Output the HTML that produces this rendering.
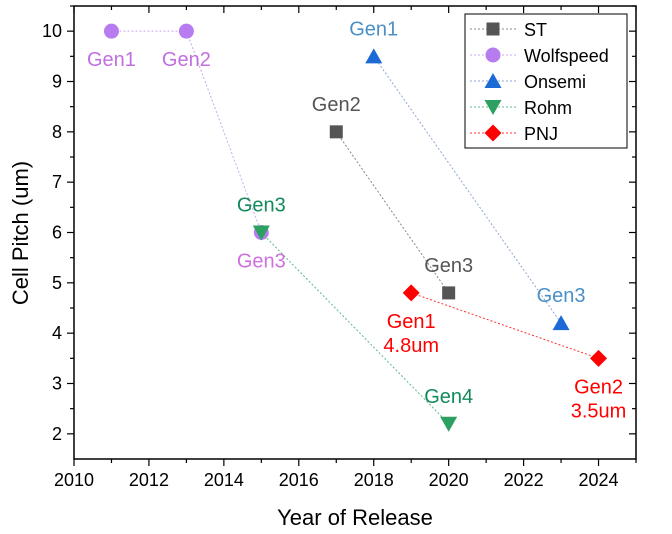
<!DOCTYPE html>
<html><head><meta charset="utf-8"><style>
body{margin:0;background:#fff;}
svg{display:block;font-family:"Liberation Sans",sans-serif;}
</style></head><body>
<svg id="c" width="672" height="534"></svg>
<script>
const years=[2010,2012,2014,2016,2018,2020,2022,2024];
const yTicks=[2,3,4,5,6,7,8,9,10];
const seriesNames=["ST","Wolfspeed","Onsemi","Rohm","PNJ"];
const stX=[2017,2020], stY=[8,4.8];
const wolfX=[2011,2013,2015], wolfY=[10,10,6];
const onX=[2018,2023], onY=[9.5,4.2];
const rohmX=[2015,2020], rohmY=[6,2.2];
const pnjX=[2019,2024], pnjY=[4.8,3.5];
const labelText=["Gen1","Gen2","Gen3","Gen1","Gen3","Gen2","Gen3","Gen3","Gen4","Gen1","4.8um","Gen2","3.5um"];
const labelX=[2011,2013,2015,2018,2023,2017,2020,2015,2020,2019,2019,2024,2024];
const labelY=[10,10,6,9.5,4.2,8,4.8,6,2.2,4.8,4.8,3.5,3.5];

const NS="http://www.w3.org/2000/svg";
const svg=document.getElementById('c');
const L=74,R=636,T=6,B=459;
const x=v=>L+(v-2010)*(R-L)/15;
const y=v=>B-(v-1.5)*(B-T)/9;
function mk(t,a,p){const e=document.createElementNS(NS,t);for(const k in a)e.setAttribute(k,a[k]);(p||svg).appendChild(e);return e;}

let fr=mk('rect',{x:L,y:T,width:R-L,height:B-T,fill:'none',stroke:'#000','stroke-width':1.5});



years.forEach(v=>{
  for(let i=0;i<2;i++){const vv=v+i;const xx=x(vv);const len=i?4:7;
    mk('line',{x1:xx,x2:xx,y1:B,y2:B+len,stroke:'#000','stroke-width':1.2});
    mk('line',{x1:xx,x2:xx,y1:T,y2:T+len,stroke:'#000','stroke-width':1.2});}
  const t=mk('text',{x:x(v),y:B+27,'text-anchor':'middle','font-size':18});
  t.textContent=v;
  
  
});
yTicks.forEach(v=>{
  [[v,7],[v+0.5,4]].forEach(([vv,len])=>{if(vv>10.5)return;const yy=y(vv);
    mk('line',{x1:L-len,x2:L,y1:yy,y2:yy,stroke:'#000','stroke-width':1.2});
    mk('line',{x1:R-len,x2:R,y1:yy,y2:yy,stroke:'#000','stroke-width':1.2});});
  const t=mk('text',{x:L-12,y:y(v)+6,'text-anchor':'end','font-size':18});
  t.textContent=v;
  
  
});
let xt=mk('text',{x:355,y:525,'text-anchor':'middle','font-size':22});xt.textContent='Year of Release';


let yt=mk('text',{x:0,y:0,'text-anchor':'middle','font-size':22,transform:'translate(28,233) rotate(-90)'});yt.textContent='Cell Pitch (um)';



function marker(shape,cx,cy,col){
  if(shape==='sq')return mk('rect',{x:cx-6.5,y:cy-6.5,width:13,height:13,fill:col});
  if(shape==='ci')return mk('circle',{cx,cy,r:7.5,fill:col});
  if(shape==='up')return mk('polygon',{points:`${cx},${cy-8} ${cx+8.5},${cy+7} ${cx-8.5},${cy+7}`,fill:col});
  if(shape==='dn')return mk('polygon',{points:`${cx},${cy+8} ${cx+8.5},${cy-7} ${cx-8.5},${cy-7}`,fill:col});
  return mk('polygon',{points:`${cx},${cy-8.5} ${cx+8.5},${cy} ${cx},${cy+8.5} ${cx-8.5},${cy}`,fill:col});
}
const series=[[stX,stY,'#555555','sq','#888'],[wolfX,wolfY,'#b77cf0','ci','#c8a8f0'],[onX,onY,'#1c6ad6','up','#8ea6d6'],[rohmX,rohmY,'#2ca060','dn','#5cb888'],[pnjX,pnjY,'#ff0000','di','#ff3030']];
series.forEach((s,i)=>{
  const pts=s[0].map((v,j)=>x(v)+','+y(s[1][j])).join(' ');
  const pl=mk('polyline',{points:pts,fill:'none',stroke:s[4],'stroke-width':1,'stroke-dasharray':'2,2'});
  
  
  s[0].forEach((v,j)=>{const m=marker(s[3],x(v),y(s[1][j]),s[2]);
    
    });
});
const ldy=[28,28,-28,-28,-28,-28,-28,28,-28,28,52,28,52];
const lcols=['#c070e0','#c070e0','#138a5a','#4a90c8','#4a90c8','#555','#555','#d070e0','#138a5a','#f00','#f00','#f00','#f00'];
labelText.forEach((t,i)=>{
  const e=mk('text',{x:x(labelX[i]),y:y(labelY[i])+ldy[i]+7,'text-anchor':'middle','font-size':20,fill:lcols[i]});
  e.textContent=t;
  
  
});
const lg=mk('g',{});


mk('rect',{x:465,y:14,width:162,height:134,fill:'#fff',stroke:'#000','stroke-width':1},lg);
series.forEach((s,i)=>{
  const yy=29+i*26;
  mk('line',{x1:470,x2:516,y1:yy,y2:yy,stroke:s[4],'stroke-width':1,'stroke-dasharray':'2,2'},lg);
  const m=marker(s[3],493,yy,s[2]);lg.appendChild(m);
  const t=mk('text',{x:524,y:yy+7,'font-size':18},lg);t.textContent=seriesNames[i];
  
  
});
</script>
</body></html>
